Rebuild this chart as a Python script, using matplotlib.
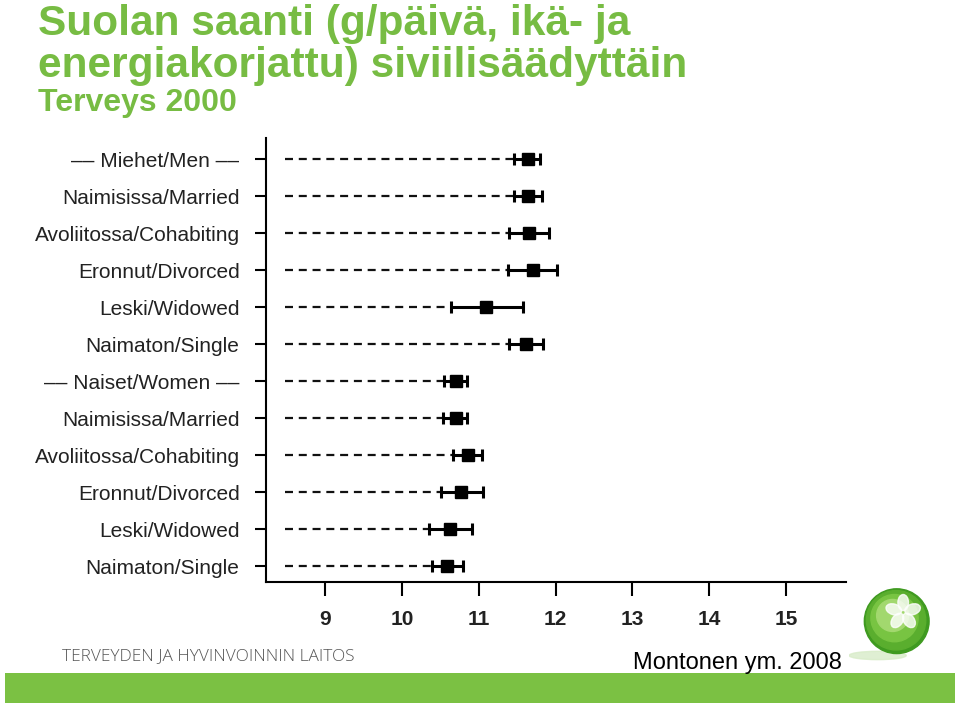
import matplotlib
matplotlib.use("Agg")
import matplotlib.pyplot as plt
import numpy as np
from matplotlib.patches import Rectangle, Circle, Ellipse

categories = ["–– Miehet/Men ––", "Naimisissa/Married", "Avoliitossa/Cohabiting",
              "Eronnut/Divorced", "Leski/Widowed", "Naimaton/Single",
              "–– Naiset/Women ––", "Naimisissa/Married", "Avoliitossa/Cohabiting",
              "Eronnut/Divorced", "Leski/Widowed", "Naimaton/Single"]
means = [11.64, 11.64, 11.66, 11.70, 11.10, 11.61,
         10.70, 10.70, 10.86, 10.77, 10.63, 10.59]
lower = [11.46, 11.46, 11.39, 11.38, 10.64, 11.39,
         10.55, 10.53, 10.66, 10.51, 10.35, 10.39]
upper = [11.80, 11.82, 11.92, 12.02, 11.57, 11.84,
         10.85, 10.85, 11.04, 11.06, 10.91, 10.79]
xticks = [9, 10, 11, 12, 13, 14, 15]
dash_start = 8.48

GREEN = "#77bc43"
W, H = 960, 706
fig = plt.figure(figsize=(W / 100, H / 100), dpi=100)
fig.patch.set_facecolor("white")

ax = fig.add_axes([266 / W, 1 - 582 / H, (846 - 266) / W, (582 - 138) / H])
y = np.arange(len(categories))
means_a = np.array(means)
lo = np.array(lower)
hi = np.array(upper)

ax.hlines(y, dash_start, lo, colors="#111111", linestyles=(0, (3.6, 2.6)), linewidth=1.6)
ax.errorbar(means_a, y, xerr=[means_a - lo, hi - means_a], fmt="s", color="black",
            markersize=8.5, capsize=4.0, elinewidth=2.2, capthick=2.2, ecolor="black")

ax.set_xlim(8.23, 15.78)
ax.set_ylim(len(categories) - 1 + 0.43, -0.57)
ax.set_yticks(y)
ax.set_yticklabels(categories, fontsize=15, color="#222222", family="Liberation Sans")
ax.set_xticks(xticks)
ax.set_xticklabels([str(t) for t in xticks], fontsize=15, fontweight="bold",
                   color="#222222", family="Liberation Sans")
for s in ["top", "right"]:
    ax.spines[s].set_visible(False)
for s in ["left", "bottom"]:
    ax.spines[s].set_linewidth(1.5)
ax.tick_params(axis="x", length=10, width=1.5, pad=10)
ax.tick_params(axis="y", length=8, width=1.5, pad=11)

# Title
fig.text(38 / W, 1 - 35 / H, "Suolan saanti (g/päivä, ikä- ja", fontsize=30.5,
         fontweight="bold", color=GREEN, va="baseline", family="Liberation Sans")
fig.text(38 / W, 1 - 77 / H, "energiakorjattu) siviilisäädyttäin", fontsize=30.5,
         fontweight="bold", color=GREEN, va="baseline", family="Liberation Sans")
fig.text(38 / W, 1 - 111 / H, "Terveys 2000", fontsize=23,
         fontweight="bold", color=GREEN, va="baseline", family="Liberation Sans")

# Footer
fig.text(62 / W, 1 - 660 / H, "TERVEYDEN JA HYVINVOINNIN LAITOS", fontsize=12.4,
         color="#555555", va="baseline", family="Open Sans", fontweight="light")
fig.text(842 / W, 1 - 669 / H, "Montonen ym. 2008", fontsize=17,
         color="black", va="baseline", ha="right", family="Liberation Sans")
fig.patches.append(Rectangle((5 / W, 1 - 703 / H), 950 / W, 30 / H,
                             transform=fig.transFigure, facecolor="#7bc143",
                             edgecolor="none"))

# Logo sphere
lax = fig.add_axes([846 / W, 1 - 665 / H, 90 / W, 80 / H])
lax.set_xlim(-1.2, 1.0)
lax.set_ylim(-1.1, 1.0)
lax.set_aspect("equal")
lax.axis("off")
lax.add_patch(Ellipse((-0.45, -0.85), 1.5, 0.22, color="#d8ecc8", alpha=0.8))
for r, c in [(0.85, "#3f9a20"), (0.78, "#5aae2e"), (0.62, "#78c442"), (0.42, "#a2d86e")]:
    lax.add_patch(Circle((0.05 - (0.85 - r) * 0.25, 0.05 + (0.85 - r) * 0.35), r, color=c))
for ang in np.arange(0, 360, 72):
    a = np.deg2rad(ang + 90)
    lax.add_patch(Ellipse((0.22 + 0.26 * np.cos(a), 0.28 + 0.26 * np.sin(a)), 0.42, 0.28,
                          angle=ang + 90, color="white", alpha=0.8))

fig.savefig("out.png", dpi=100)
